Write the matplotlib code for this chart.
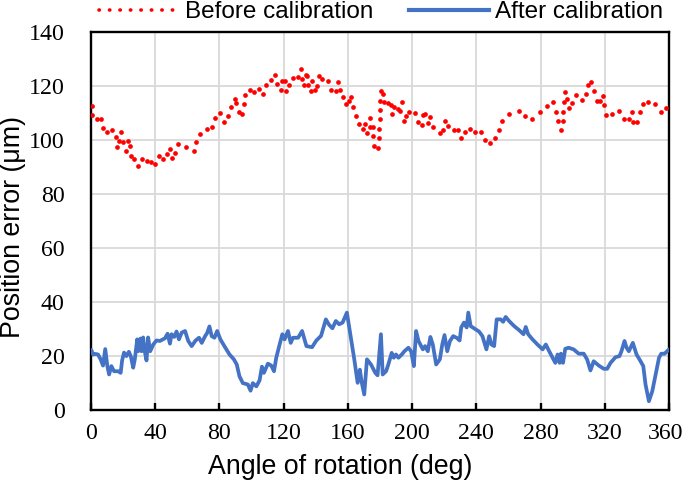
import matplotlib
matplotlib.use("Agg")
import matplotlib.pyplot as plt
import matplotlib.transforms as mtransforms
from matplotlib.lines import Line2D

# Before calibration (red dotted)
before_x = [0.4, 0.8, 3.5, 6, 7.3, 10.2, 13.3, 15.4, 16, 17.7, 18.5, 20.2, 21.7, 22.9, 24.4, 24.8,
            26.9, 29, 31.9, 35, 37.1, 40, 42.1, 44.8, 47.3, 49.4, 50.4, 52.3, 54.2, 59.4, 63.9, 65.2,
            67.7, 72.3, 75.4, 77.1, 80.2, 82.7, 85.4, 87.3, 89.6, 90.6, 91.9, 94.2, 95.2, 96, 98.9,
            101.4, 104.8, 107.3, 108.9, 111.9, 114.7, 116, 118.1, 119.2, 120.6, 121.3, 123.3, 126.1,
            129, 130.6, 131.7, 132.7, 133.8, 134.8, 135.4, 136.9, 137.9, 139.4, 140.6, 142.1, 144.2,
            147.7, 149.8, 152.5, 154, 155.2, 156.9, 158.8, 160.4, 161.9, 163.5, 165.2, 166.7, 169.2,
            170.8, 171.9, 173.8, 173.8, 175.4, 175.8, 176.5, 179, 179.6, 179.6, 180, 180, 180, 180.6,
            181.7, 182.7, 184.8, 186.9, 187.5, 189, 191.1, 192.7, 193.8, 194.8, 196.3, 197.9, 202,
            203.5, 206.2, 207, 208.3, 209.8, 211.4, 213.1, 217.1, 219.2, 220.2, 222.3, 226, 228.9,
            230.6, 232.7, 235.8, 238.9, 242.7, 245.6, 248.3, 251.9, 254.2, 256.3, 260.6, 266.3,
            270.6, 275, 279.4, 283.8, 287.7, 289.4, 290.6, 292.7, 293.8, 294.2, 294.6, 295, 296.3,
            297.7, 299.8, 302.1, 305.8, 308.3, 309.4, 311.7, 313.3, 315, 317.3, 319.2, 319.8, 320.8,
            324.8, 329, 331.9, 335.4, 336.9, 337.9, 340, 341.7, 343.8, 346.7, 351.4, 355, 358.3]
before_y = [112.6, 109.2, 107.9, 107.8, 104.3, 103.1, 103.7, 101, 97.5, 99.8, 102.8, 99.4, 96, 99.5,
            97.8, 94.2, 93, 90.5, 92.9, 92.3, 91.9, 91.3, 94.2, 92.8, 95, 96.7, 93.2, 95.2, 98.4, 97.5,
            95.9, 99.4, 102.3, 104, 104.7, 108, 109.9, 106.8, 108.9, 112.4, 115.2, 113.6, 110.2, 109.7,
            113.3, 116.6, 118.6, 117.8, 118.8, 117, 120.3, 122.3, 124.1, 120.8, 118.6, 122, 121.8,
            118.2, 120.4, 122.9, 123.3, 126.3, 122.7, 120.4, 123.9, 123.6, 120.4, 118.2, 121.8, 118.6,
            120.1, 123.6, 122.6, 121.8, 118.6, 118.2, 121.6, 118.6, 116.1, 113.3, 114.6, 115.8, 112.4,
            109, 105.8, 104, 106, 102.5, 108.2, 104.9, 104.9, 101.5, 97.9, 97.1, 100.6, 104, 107.7,
            111.2, 114.6, 118.3, 117.1, 113.9, 113.6, 113, 109.5, 112.4, 111.4, 110.9, 114, 107.1,
            109, 110.3, 109.9, 106.6, 105.7, 109.2, 109.7, 106.2, 108.4, 104.9, 102.5, 103.7, 107.2,
            105.2, 103.7, 103.6, 100.9, 103, 104, 103, 103, 100, 99, 100.7, 103.8, 107.1, 109.6, 110.8,
            109, 107.8, 110.3, 112.6, 113.9, 110.5, 107.1, 103.7, 107.1, 110.5, 114, 117.7, 115.2,
            111.7, 113.6, 116.7, 114.9, 117, 120.4, 121.4, 118, 114.6, 114.6, 116.4, 112.8, 109.3,
            109.7, 110.6, 107.8, 107.8, 110.3, 106.8, 106.7, 110.2, 113.3, 114, 113.2, 110.3, 111.7]

# After calibration (blue solid)
after_x = [0.2, 1.3, 2.7, 4.4, 6, 7.5, 8.9, 10.2, 11.3, 12.7, 14.4, 16.9, 18.5, 19.4, 20.6, 22.1,
           23.6, 24.8, 26.3, 27.3, 28.8, 29.4, 30.8, 31.5, 32.5, 33.5, 34.6, 35.6, 36.9, 38.8, 40.8,
           42.9, 46.1, 47.7, 49.2, 50.2, 51.9, 53.3, 54.8, 56.5, 58.6, 60.6, 62.7, 65.2, 67.3, 69,
           71.1, 72.3, 73.8, 75.2, 76.9, 78.6, 80.6, 83.1, 86.3, 89, 90.8, 92.5, 94.6, 97.7, 99.4,
           100.8, 103, 105, 106.5, 107.7, 110.2, 112.3, 114, 115.4, 117.5, 119.2, 120.6, 122.7,
           124.4, 125.8, 129, 131.5, 134.2, 137.7, 140.4, 143.3, 146.3, 148.3, 150.4, 152.5, 154.6,
           156.7, 159.4, 161.9, 164, 166.1, 167.5, 168.5, 170.2, 171.9, 174.4, 177.1, 178.5, 180.6,
           181.7, 183.8, 185.2, 187.3, 188.6, 190, 191.5, 193.6, 195.2, 197.7, 199.4, 201.1, 202.5,
           204, 206.7, 208.1, 209.8, 211.4, 212.9, 215, 217.3, 218.8, 220.2, 221.9, 223.6, 225.6,
           227.7, 229.6, 230.6, 232.3, 234, 235, 236.5, 238.6, 241.7, 243.8, 246.3, 248, 249.4, 251.1,
           252.7, 255.2, 256.7, 258.3, 260.4, 263.6, 266.7, 269.4, 270.8, 272.3, 275, 278.1, 281.3,
           283.3, 285.4, 288.1, 289.2, 290.6, 291.9, 292.7, 294, 295.4, 297.5, 300.6, 303.8, 306.9,
           309, 311.1, 313.1, 316.3, 319.4, 321.5, 323.6, 326.7, 329.2, 330.4, 332.3, 333.6, 335,
           337.5, 339.8, 342.3, 344, 345.4, 347.5, 349.6, 351.7, 353.8, 355.2, 357.3, 360]
after_y = [22.3, 20.6, 20.8, 20.6, 18.8, 16.5, 22.6, 16.3, 13.2, 16.3, 14.4, 14.4, 13.8, 18.4, 21.3,
           20, 21.6, 20, 15.7, 18.8, 26.2, 21.8, 26.5, 21.8, 26.9, 21.8, 18.4, 26.9, 21.8, 24.3, 25.8,
           25.6, 26.6, 28.3, 24.6, 28.1, 27.1, 29.1, 26.2, 28.7, 29.3, 25.6, 23.7, 25.8, 26.8, 24.9,
           27.4, 28.5, 31, 27.4, 26.8, 29.3, 26.2, 23.7, 20.6, 18.8, 16.9, 12.5, 10, 9.5, 7.2, 10,
           8.8, 11, 16.1, 13.8, 17.2, 16.5, 14.4, 19.4, 24.3, 28.1, 26.2, 29.3, 24.9, 26.8, 26.8,
           29.3, 23.7, 23.3, 25.8, 27.5, 33.6, 31.6, 30.3, 33, 31.8, 32.4, 36.1, 26.8, 18.8, 10.1, 15,
           10.7, 5.8, 18.8, 16.9, 13.8, 12.9, 28.1, 13.2, 14.4, 16.9, 21.2, 19.4, 20.6, 19.4, 20.6,
           21.8, 23.1, 21.8, 16.3, 29.3, 25.6, 22.5, 23.7, 21.8, 27.1, 24.3, 16.9, 18.8, 24.3, 27.8,
           21.8, 25.6, 27.4, 26.8, 25.8, 30.6, 32.4, 30.6, 36.1, 31.1, 30.3, 29.1, 27.4, 22.5, 27.4,
           24.3, 23.7, 33.6, 33.6, 32.7, 34.5, 33, 31.1, 29.6, 28.1, 30.8, 28.1, 26.2, 24.3, 22.5,
           24.3, 21.8, 18.8, 17.5, 20.6, 17.5, 20.9, 17.5, 22.7, 23.1, 22.5, 20.9, 20.9, 18.8, 14.7,
           18.1, 16.5, 15.3, 15.3, 17.5, 19.6, 20, 21.8, 25.6, 23.1, 21.8, 24.9, 20.6, 18.1, 16.3,
           9.5, 3.3, 7, 13.2, 19.4, 20.9, 20.9, 22.5]

x_ticks = [0, 40, 80, 120, 160, 200, 240, 280, 320, 360]
y_ticks = [0, 20, 40, 60, 80, 100, 120, 140]

fig = plt.figure(figsize=(6.85, 4.9), dpi=100)
ax = fig.add_axes([0.1328, 0.163, 0.9766 - 0.1328, 0.9347 - 0.163])

ax.plot(before_x, before_y, linestyle='none', marker='o', markersize=3.4,
        markeredgewidth=0, color='#FF0000', zorder=3)
ax.plot(after_x, after_y, color='#4472C4', linewidth=2.7, solid_joinstyle='round',
        solid_capstyle='round', zorder=3)

ax.set_xlim(0, 360)
ax.set_ylim(0, 140)
ax.set_xticks(x_ticks)
ax.set_yticks(y_ticks)
ax.grid(True, color='#D9D9D9', linewidth=1.3, zorder=0)
ax.set_axisbelow(True)
for s in ax.spines.values():
    s.set_linewidth(1.7)
    s.set_color('black')

serif = ['Liberation Serif', 'DejaVu Serif']
sans = ['Liberation Sans', 'DejaVu Sans']
ax.tick_params(axis='x', direction='in', length=5, width=1.7, pad=9)
ax.tick_params(axis='y', length=0, pad=19)
for lbl in ax.get_xticklabels() + ax.get_yticklabels():
    lbl.set_fontfamily(serif)
    lbl.set_fontsize(17.2)
# keep the last x tick label inside the canvas
last = ax.get_xticklabels()[-1]
last.set_transform(last.get_transform() +
                   mtransforms.ScaledTranslation(-2.5 / 72, 0, fig.dpi_scale_trans))

ax.set_xlabel('Angle of rotation (deg)', fontsize=19.3, family=sans)
ax.xaxis.set_label_coords(0.431, -0.115)
ax.set_ylabel('Position error (μm)', fontsize=19.3, family=sans)
ax.yaxis.set_label_coords(-0.112, 0.485)

handles = [Line2D([0], [0], color='#FF0000', linestyle=(0, (0.1, 2.8)), linewidth=2.6,
                  dash_capstyle='round'),
           Line2D([0], [0], color='#4472C4', linewidth=3)]
leg = fig.legend(handles, ['Before calibration', 'After calibration'], loc='center',
                 bbox_to_anchor=(0.556, 0.975), ncol=2, frameon=False,
                 prop={'family': sans, 'size': 17.5}, handlelength=3.3, handletextpad=0.25,
                 columnspacing=1.45, borderaxespad=0)

fig.savefig('out.png', dpi=100)
